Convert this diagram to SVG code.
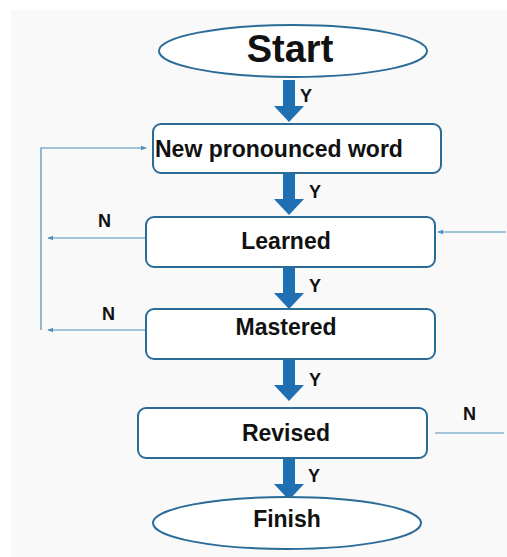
<svg xmlns="http://www.w3.org/2000/svg" width="507" height="557" viewBox="0 0 507 557">
<defs>
<style>
.box{fill:#ffffff;stroke:#2a6b98;stroke-width:2}
.t{font-family:"Liberation Sans",Arial,sans-serif;font-weight:bold;fill:#111;text-anchor:middle}
.lbl{font-family:"Liberation Sans",Arial,sans-serif;font-weight:bold;fill:#111;font-size:18px}
.thin{fill:none;stroke:#4a8fbd;stroke-width:1.2}
.big{fill:#1f6fb3}
</style>
<marker id="ah" viewBox="0 0 8 8" refX="7" refY="4" markerWidth="6" markerHeight="6" orient="auto" markerUnits="userSpaceOnUse">
<path d="M0,1 L8,4 L0,7 Z" fill="#4a8fbd"/>
</marker>
<path id="bigArrow" d="M-6,0 H6 V26 H15 L0,42 L-15,26 H-6 Z"/>
</defs>
<rect x="0" y="0" width="507" height="557" fill="#ffffff"/>
<rect x="11" y="10" width="496" height="547" fill="#f9f9f9"/>

<g id="connectors">
<use href="#bigArrow" class="big" x="289" y="80"/>
<use href="#bigArrow" class="big" x="289" y="173"/>
<use href="#bigArrow" class="big" x="289" y="267"/>
<use href="#bigArrow" class="big" x="289" y="359"/>
<use href="#bigArrow" class="big" x="289" y="458"/>
<path class="thin" d="M146,238 H48" marker-end="url(#ah)"/>
<path class="thin" d="M146,330 H48" marker-end="url(#ah)"/>
<path class="thin" d="M41,330 V148 H146" marker-end="url(#ah)"/>
<path class="thin" d="M506,232 H438" marker-end="url(#ah)"/>
<path class="thin" d="M435,433 H504"/>
<text class="lbl" x="300" y="102">Y</text>
<text class="lbl" x="309" y="198">Y</text>
<text class="lbl" x="309" y="292">Y</text>
<text class="lbl" x="309" y="386">Y</text>
<text class="lbl" x="308" y="482">Y</text>
<text class="lbl" x="98" y="227">N</text>
<text class="lbl" x="102" y="320">N</text>
<text class="lbl" x="463" y="420">N</text>
</g>

<g id="start">
<ellipse class="box" cx="293" cy="51" rx="134" ry="26"/>
<text class="t" x="290" y="62" font-size="38">Start</text>
</g>
<g id="new-word">
<rect class="box" x="153" y="124" width="288" height="49" rx="8"/>
<text x="155" y="157" font-size="23" font-family="Liberation Sans,Arial,sans-serif" font-weight="bold" fill="#111">New pronounced word</text>
</g>
<g id="learned">
<rect class="box" x="146" y="217" width="289" height="50" rx="8"/>
<text class="t" x="286" y="249" font-size="23">Learned</text>
</g>
<g id="mastered">
<rect class="box" x="146" y="309" width="289" height="50" rx="8"/>
<text class="t" x="286" y="335" font-size="23">Mastered</text>
</g>
<g id="revised">
<rect class="box" x="138" y="408" width="289" height="50" rx="8"/>
<text class="t" x="286" y="441" font-size="23">Revised</text>
</g>
<g id="finish">
<ellipse class="box" cx="287" cy="523" rx="134" ry="26"/>
<text class="t" x="287" y="527" font-size="23">Finish</text>
</g>
</svg>
